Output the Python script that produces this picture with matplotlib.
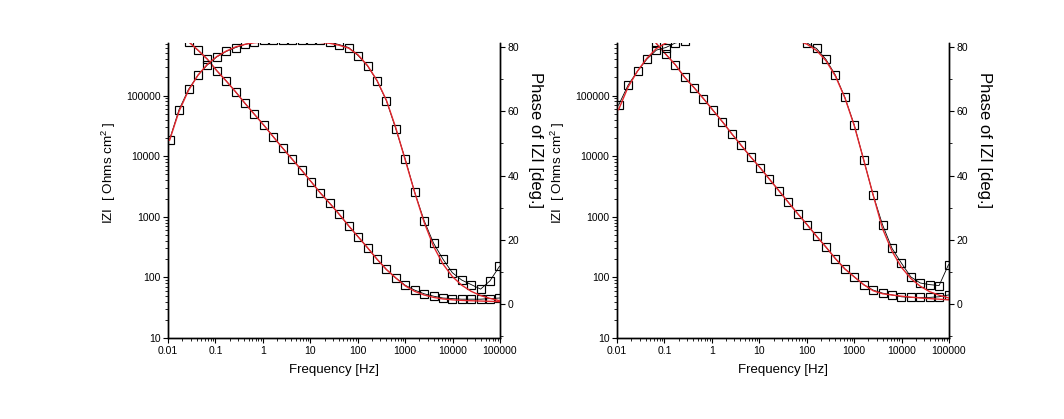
import matplotlib
matplotlib.use('Agg')
import matplotlib.pyplot as plt
from matplotlib.ticker import LogLocator, NullFormatter, FuncFormatter, MultipleLocator

plt.rcParams['font.family'] = ['Liberation Sans', 'DejaVu Sans']
plt.rcParams['mathtext.fontset'] = 'custom'
plt.rcParams['mathtext.rm'] = 'Liberation Sans'

# ---- frequencies of the sweep (5 points / decade) ----
freq = [0.0108, 0.0171, 0.0271, 0.0428, 0.0676, 0.107, 0.169, 0.267, 0.422, 0.665,
        1.05, 1.66, 2.63, 4.15, 6.56, 10.4, 16.4, 25.9, 40.9, 64.6,
        102, 161, 255, 403, 637, 1007, 1589, 2512, 3972, 6281,
        9908, 15670, 24770, 39080, 61800, 97720]

# ---- left panel: measured |Z| [Ohm cm2] and phase [deg] ----
z_left = [1.78e6, 1.17e6, 7.76e5, 5.62e5, 3.98e5, 2.57e5, 1.74e5, 1.15e5, 7.41e4, 4.90e4,
          3.24e4, 2.09e4, 1.35e4, 8913, 5888, 3802, 2455, 1660, 1096, 708,
          468, 309, 200, 135, 97.7, 74.1, 61.7, 53.7, 49.0, 45.7,
          44.7, 43.7, 43.7, 43.7, 44.7, 45.7]
ph_left = [51.2, 60.5, 66.8, 71.2, 74.4, 76.9, 78.6, 79.8, 80.8, 81.5,
           82.0, 82.0, 82.0, 82.0, 82.0, 82.0, 82.0, 81.4, 80.7, 79.8,
           77.3, 74.1, 69.5, 63.3, 54.5, 45.1, 34.8, 26.0, 19.0, 14.0,
           9.8, 7.5, 6.1, 4.7, 7.3, 11.8]

# ---- left panel: fitted curves ----
zfit_left = [1.78e6, 1.17e6, 7.76e5, 5.62e5, 3.98e5, 2.57e5, 1.74e5, 1.15e5, 7.41e4, 4.90e4,
             3.24e4, 2.09e4, 1.35e4, 8913, 5888, 3802, 2455, 1660, 1096, 708,
             468, 309, 200, 135, 97.7, 72.4, 58.9, 51.3, 46.8, 44.1,
             42.7, 41.7, 41.2, 40.7, 40.3, 39.8]
phfit_left = [51.0, 60.0, 66.5, 71.2, 74.6, 77.0, 78.7, 80.0, 80.8, 81.3,
              81.5, 81.6, 81.6, 81.6, 81.5, 81.5, 81.4, 81.1, 80.5, 79.6,
              77.5, 74.2, 69.6, 63.4, 54.8, 44.8, 34.8, 25.5, 18.0, 12.5,
              8.6, 5.9, 4.0, 2.7, 1.8, 1.1]

# ---- right panel: measured ----
z_right = [3.55e6, 2.40e6, 1.62e6, 1.10e6, 7.24e5, 4.79e5, 3.24e5, 2.00e5, 1.35e5, 8.91e4,
           5.75e4, 3.72e4, 2.34e4, 1.51e4, 9772, 6457, 4169, 2692, 1738, 1122,
           741, 479, 316, 204, 138, 102, 75.9, 61.7, 55.0, 51.3,
           47.9, 46.8, 46.8, 46.8, 47.9, 51.3]
ph_right = [61.9, 68.1, 72.5, 76.2, 79.0, 79.8, 81.2, 81.8, 83.5, 84.0,
            84.0, 84.0, 84.0, 84.0, 84.0, 84.0, 84.0, 84.0, 83.5, 83.0,
            81.2, 79.5, 76.1, 71.2, 64.3, 55.7, 44.9, 34.0, 24.7, 17.4,
            12.8, 8.5, 6.6, 6.1, 5.8, 12.3]

# ---- right panel: fitted ----
zfit_right = [3.55e6, 2.40e6, 1.62e6, 1.10e6, 7.24e5, 4.79e5, 3.24e5, 2.00e5, 1.35e5, 8.91e4,
              5.75e4, 3.72e4, 2.34e4, 1.51e4, 9772, 6457, 4169, 2692, 1738, 1122,
              741, 479, 316, 204, 138, 102, 75.9, 60.3, 53.7, 51.3,
              49.0, 47.3, 45.7, 44.7, 43.7, 42.7]
phfit_right = [60.5, 67.5, 72.5, 76.5, 79.5, 81.2, 82.3, 83.0, 83.5, 83.5,
               83.5, 83.5, 83.5, 83.5, 83.5, 83.5, 83.5, 83.5, 83.0, 82.0,
               80.8, 78.9, 75.7, 70.9, 64.2, 55.5, 44.9, 34.0, 23.5, 16.5,
               11.5, 8.0, 5.6, 3.9, 2.8, 2.0]

xticks = [0.01, 0.1, 1, 10, 100, 1000, 10000, 100000]
zticks = [10, 100, 1000, 10000, 100000]
phticks = [0, 20, 40, 60, 80]

RED = '#e3262c'
FS_TICK = 7.5


def draw_panel(fig, rect, z, ph, zfit, phfit):
    ax = fig.add_axes(rect)
    ax2 = ax.twinx()

    for a in (ax, ax2):
        a.spines['top'].set_visible(False)
        for s in ('left', 'right', 'bottom'):
            a.spines[s].set_linewidth(1.0)

    mk = dict(marker='s', ms=6.3, mfc='none', mec='black', mew=0.85,
              color='black', lw=0.6)
    ax.plot(freq, z, **mk, zorder=2)
    ax.plot(freq, zfit, color=RED, lw=1.0, zorder=3)
    ax2.plot(freq, ph, **mk, zorder=2)
    ax2.plot(freq, phfit, color=RED, lw=1.0, zorder=3)

    ax.set_xscale('log')
    ax.set_yscale('log')
    ax.set_xlim(0.01, 1e5)
    ax.set_ylim(10, 7.36e5)
    ax2.set_ylim(-10.5, 81.2)

    fmt = FuncFormatter(lambda v, p: '%g' % v)
    ax.set_xticks(xticks)
    ax.xaxis.set_major_formatter(fmt)
    ax.xaxis.set_minor_locator(LogLocator(base=10, subs=range(2, 10), numticks=20))
    ax.xaxis.set_minor_formatter(NullFormatter())
    ax.set_yticks(zticks)
    ax.yaxis.set_major_formatter(fmt)
    ax.yaxis.set_minor_locator(LogLocator(base=10, subs=range(2, 10), numticks=20))
    ax.yaxis.set_minor_formatter(NullFormatter())
    ax2.set_yticks(phticks)
    ax2.yaxis.set_minor_locator(MultipleLocator(10))

    for a in (ax, ax2):
        a.tick_params(which='major', length=3.5, width=0.8, labelsize=FS_TICK, pad=2)
        a.tick_params(which='minor', length=2, width=0.6)

    ax.set_xlabel('Frequency [Hz]', fontsize=9.5, labelpad=6)
    ax.set_ylabel('IZI  [ Ohms cm$^2$ ]', fontsize=9.7)
    ax.yaxis.set_label_coords(-0.151, 0.559)
    ax2.set_ylabel('Phase of IZI [deg.]', fontsize=12, rotation=-90,
                   va='center', ha='center')
    ax2.yaxis.set_label_coords(1.107, 0.671)
    return ax, ax2


fig = plt.figure(figsize=(10.64, 4.19), dpi=100)
draw_panel(fig, [0.1579, 0.1933, 0.312, 0.704], z_left, ph_left, zfit_left, phfit_left)
draw_panel(fig, [0.5799, 0.1933, 0.312, 0.704], z_right, ph_right, zfit_right, phfit_right)

fig.savefig('out.png', dpi=100)
